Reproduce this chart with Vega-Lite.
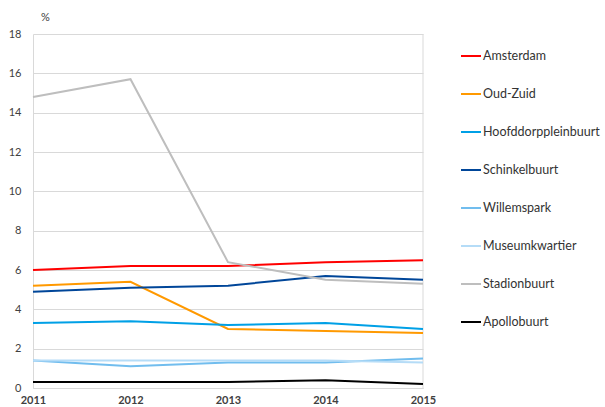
{
  "$schema": "https://vega.github.io/schema/vega-lite/v6.json",
  "width": 390,
  "height": 354,
  "autosize": "none",
  "padding": {"left": 33, "top": 34, "right": 182, "bottom": 19},
  "background": "white",
  "config": {
    "font": "Lato",
    "view": {"stroke": null},
    "axis": {"labelFont": "Lato", "titleFont": "Lato", "labelColor": "#333333"}
  },
  "data": {
    "values": [
      {"buurt": "Amsterdam", "jaar": 2011, "pct": 6.0},
      {"buurt": "Amsterdam", "jaar": 2012, "pct": 6.2},
      {"buurt": "Amsterdam", "jaar": 2013, "pct": 6.2},
      {"buurt": "Amsterdam", "jaar": 2014, "pct": 6.4},
      {"buurt": "Amsterdam", "jaar": 2015, "pct": 6.5},
      {"buurt": "Oud-Zuid", "jaar": 2011, "pct": 5.2},
      {"buurt": "Oud-Zuid", "jaar": 2012, "pct": 5.4},
      {"buurt": "Oud-Zuid", "jaar": 2013, "pct": 3.0},
      {"buurt": "Oud-Zuid", "jaar": 2014, "pct": 2.9},
      {"buurt": "Oud-Zuid", "jaar": 2015, "pct": 2.8},
      {"buurt": "Hoofddorppleinbuurt", "jaar": 2011, "pct": 3.3},
      {"buurt": "Hoofddorppleinbuurt", "jaar": 2012, "pct": 3.4},
      {"buurt": "Hoofddorppleinbuurt", "jaar": 2013, "pct": 3.2},
      {"buurt": "Hoofddorppleinbuurt", "jaar": 2014, "pct": 3.3},
      {"buurt": "Hoofddorppleinbuurt", "jaar": 2015, "pct": 3.0},
      {"buurt": "Schinkelbuurt", "jaar": 2011, "pct": 4.9},
      {"buurt": "Schinkelbuurt", "jaar": 2012, "pct": 5.1},
      {"buurt": "Schinkelbuurt", "jaar": 2013, "pct": 5.2},
      {"buurt": "Schinkelbuurt", "jaar": 2014, "pct": 5.7},
      {"buurt": "Schinkelbuurt", "jaar": 2015, "pct": 5.5},
      {"buurt": "Willemspark", "jaar": 2011, "pct": 1.4},
      {"buurt": "Willemspark", "jaar": 2012, "pct": 1.1},
      {"buurt": "Willemspark", "jaar": 2013, "pct": 1.3},
      {"buurt": "Willemspark", "jaar": 2014, "pct": 1.3},
      {"buurt": "Willemspark", "jaar": 2015, "pct": 1.5},
      {"buurt": "Museumkwartier", "jaar": 2011, "pct": 1.4},
      {"buurt": "Museumkwartier", "jaar": 2012, "pct": 1.4},
      {"buurt": "Museumkwartier", "jaar": 2013, "pct": 1.4},
      {"buurt": "Museumkwartier", "jaar": 2014, "pct": 1.4},
      {"buurt": "Museumkwartier", "jaar": 2015, "pct": 1.3},
      {"buurt": "Stadionbuurt", "jaar": 2011, "pct": 14.8},
      {"buurt": "Stadionbuurt", "jaar": 2012, "pct": 15.7},
      {"buurt": "Stadionbuurt", "jaar": 2013, "pct": 6.4},
      {"buurt": "Stadionbuurt", "jaar": 2014, "pct": 5.5},
      {"buurt": "Stadionbuurt", "jaar": 2015, "pct": 5.3},
      {"buurt": "Apollobuurt", "jaar": 2011, "pct": 0.3},
      {"buurt": "Apollobuurt", "jaar": 2012, "pct": 0.3},
      {"buurt": "Apollobuurt", "jaar": 2013, "pct": 0.3},
      {"buurt": "Apollobuurt", "jaar": 2014, "pct": 0.4},
      {"buurt": "Apollobuurt", "jaar": 2015, "pct": 0.2}
    ]
  },
  "layer": [
    {
      "mark": {"type": "rule", "color": "#d9d9d9", "strokeWidth": 1},
      "data": {"values": [{"jaar": 2015}]},
      "encoding": {"x": {"field": "jaar", "type": "quantitative"}}
    },
    {
      "mark": {"type": "line", "strokeWidth": 2},
      "encoding": {
        "x": {
          "field": "jaar", "type": "quantitative",
          "scale": {"domain": [2011, 2015], "nice": false, "zero": false},
          "axis": {"title": null, "format": "d", "values": [2011, 2012, 2013, 2014, 2015], "grid": false, "ticks": false, "labelFlush": false, "labelOverlap": false, "domainColor": "#d9d9d9", "labelFontSize": 11, "labelFontWeight": "bold", "labelPadding": 6, "labelColor": "#404040"}
        },
        "y": {
          "field": "pct", "type": "quantitative",
          "scale": {"domain": [0, 18], "nice": false},
          "axis": {"title": "%", "titleAngle": 0, "titleX": 12, "titleY": -12, "titleFontSize": 11, "titleFontWeight": "normal", "titleColor": "#404040", "values": [0, 2, 4, 6, 8, 10, 12, 14, 16, 18], "ticks": false, "labelFlush": false, "gridColor": "#d9d9d9", "domainColor": "#d9d9d9", "labelFontSize": 11, "labelPadding": 12, "labelColor": "#404040"}
        },
        "color": {
          "field": "buurt", "type": "nominal",
          "sort": ["Amsterdam", "Oud-Zuid", "Hoofddorppleinbuurt", "Schinkelbuurt", "Willemspark", "Museumkwartier", "Stadionbuurt", "Apollobuurt"],
          "scale": {
            "domain": ["Amsterdam", "Oud-Zuid", "Hoofddorppleinbuurt", "Schinkelbuurt", "Willemspark", "Museumkwartier", "Stadionbuurt", "Apollobuurt"],
            "range": ["#ff0000", "#ff9900", "#00a0e6", "#004699", "#71bdee", "#b5dcf7", "#bebebe", "#000000"]
          },
          "legend": {
            "title": null, "orient": "none", "legendX": 427, "legendY": 11,
            "symbolType": "stroke", "symbolSize": 400, "symbolStrokeWidth": 2,
            "labelFontSize": 12.5, "labelColor": "#333333", "labelOffset": 1,
            "rowPadding": 20, "labelLimit": 200
          }
        }
      }
    }
  ]
}
